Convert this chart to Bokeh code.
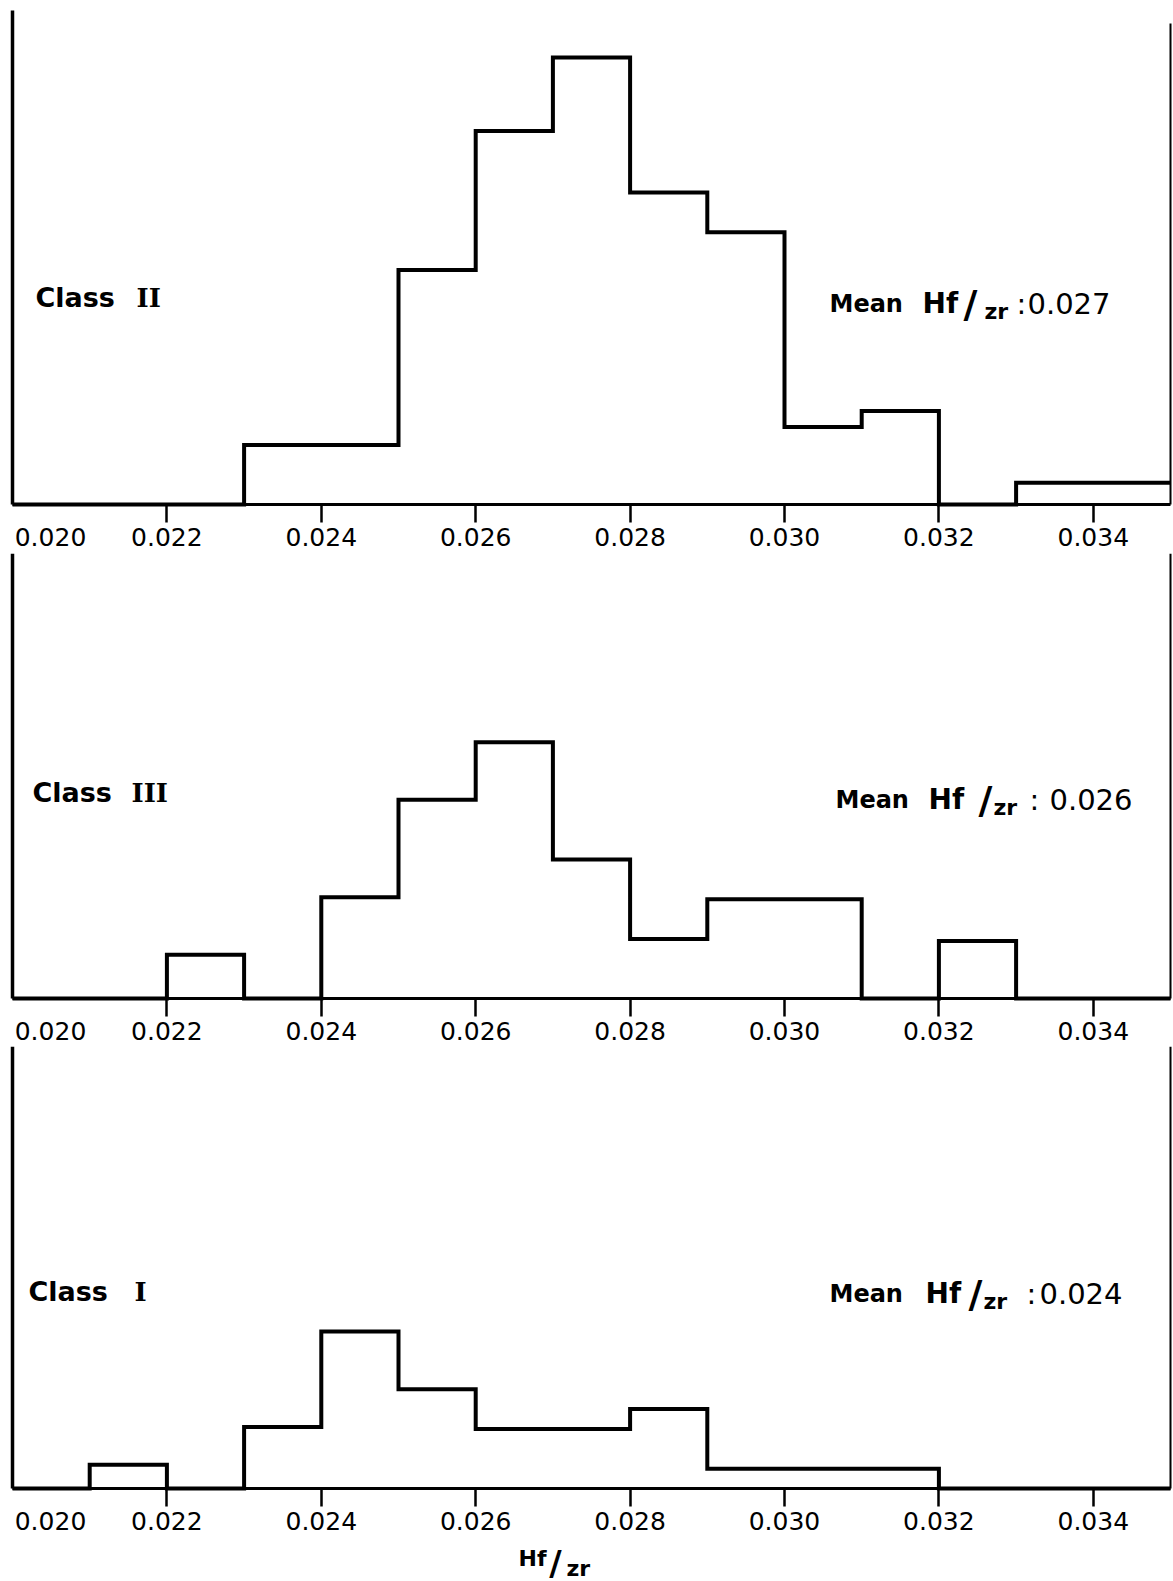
from bokeh.plotting import figure
from bokeh.models import FixedTicker, LinearAxis, Label, Range1d, NumeralTickFormatter
from bokeh.layouts import column
from bokeh.embed import file_html
from bokeh.resources import INLINE

# ---- data ----
bin_edges = [0.020, 0.021, 0.022, 0.023, 0.024, 0.025, 0.026, 0.027,
             0.028, 0.029, 0.030, 0.031, 0.032, 0.033, 0.034, 0.035]
class_ii = [0, 0, 0, 3.0, 3.0, 11.8, 18.8, 22.5, 15.7, 13.7, 3.9, 4.7, 0, 1.1, 1.1]
class_iii = [0, 0, 2.2, 0, 5.1, 10.0, 12.9, 7.0, 3.0, 5.0, 5.0, 0, 2.9, 0, 0]
class_i = [0, 1.2, 0, 3.1, 7.9, 5.0, 3.0, 3.0, 4.0, 1.0, 1.0, 1.0, 0, 0, 0]
tick_values = [0.022, 0.024, 0.026, 0.028, 0.030, 0.032, 0.034]
first_tick_label = "0.020"
class_word = "Class"
numerals = ["II", "III", "I"]
mean_values = ["0.027", "0.026", "0.024"]
x_title = ["Hf", "/", "zr"]

FONT = "DejaVu Sans"
SERIF = "DejaVu Serif"
W = 1173                   # figure width (page has no margin)
X0_PX, X1_PX = 12, 1170    # canvas px of x = 0.020 and x = 0.035
U = 19.87                  # px per unit of frequency


def lab(p, x, y, text, size, bold=False, font=FONT, align="left"):
    p.add_layout(Label(x=x, y=y, x_units="screen", y_units="screen", text=text,
                       text_font=font, text_font_size=size,
                       text_font_style="bold" if bold else "normal",
                       text_color="black", text_align=align, text_baseline="middle"))


def panel(values, numeral, mean, fig_top, fig_bottom, baseline, left_top, right_top,
          cls, mean_lay):
    lo, hi = bin_edges[0], bin_edges[-1]
    k = (hi - lo) / (X1_PX - X0_PX)
    x_range = Range1d(lo - X0_PX * k, hi + (W - X1_PX) * k)
    y_range = Range1d(-(fig_bottom - baseline) / U, (baseline - fig_top) / U)
    p = figure(width=W, height=fig_bottom - fig_top, x_range=x_range, y_range=y_range,
               output_backend="svg", toolbar_location=None,
               min_border_left=0, min_border_right=0, min_border_top=0,
               min_border_bottom=0, outline_line_color=None,
               background_fill_color="white", border_fill_color="white",
               x_axis_location=None, y_axis_location=None)
    p.grid.visible = False

    xa = LinearAxis(fixed_location=0, ticker=FixedTicker(ticks=tick_values),
                    formatter=NumeralTickFormatter(format="0.000"),
                    axis_line_width=3, major_tick_out=18, major_tick_in=0,
                    major_tick_line_width=2.5, minor_tick_line_color=None,
                    major_label_text_font=FONT, major_label_text_font_size="25px",
                    major_label_text_color="black", major_label_standoff=5,
                    bounds=(lo, hi))
    p.add_layout(xa, "below")
    ya = LinearAxis(fixed_location=lo, ticker=FixedTicker(ticks=[]),
                    major_tick_line_color=None, minor_tick_line_color=None,
                    axis_line_width=3.5, bounds=(0, (baseline - left_top) / U))
    p.add_layout(ya, "left")
    ra = LinearAxis(fixed_location=hi, ticker=FixedTicker(ticks=[]),
                    major_tick_line_color=None, minor_tick_line_color=None,
                    axis_line_width=2, bounds=(0, (baseline - right_top) / U))
    p.add_layout(ra, "right")

    p.step(x=bin_edges, y=values + [values[-1]], mode="after", line_width=4,
           line_color="black", line_join="miter")

    off = fig_bottom - baseline
    # first tick label, set right of the left edge
    lab(p, X0_PX + 38, off - 32, first_tick_label, "25px", align="center")

    cx, nx, cy = cls
    lab(p, X0_PX + cx, off + cy, class_word, "27px", bold=True)
    lab(p, X0_PX + nx, off + cy, numeral, "26px", bold=True, font=SERIF)

    mx, my, dh, ds, dz, dc, dv = mean_lay
    mx += X0_PX
    lab(p, mx, off + my, "Mean", "24px", bold=True)
    lab(p, mx + dh, off + my, "Hf", "28px", bold=True)
    lab(p, mx + ds, off + my, "/", "38px", bold=True, align="center")
    lab(p, mx + dz, off + my - 8, "zr", "22px", bold=True)
    lab(p, mx + dc, off + my, ":", "29px")
    lab(p, mx + dv, off + my, mean, "29px")
    return p, off


p1, _ = panel(class_ii, numerals[0], mean_values[0], 0, 553, 504, 10, 23,
              (23, 124, 207), (817, 201, 93, 141, 155, 187, 198))
p2, _ = panel(class_iii, numerals[1], mean_values[1], 553, 1046, 998, 550, 550,
              (20, 119, 206), (823, 199, 93, 150, 158, 194, 214))
p3, off3 = panel(class_i, numerals[2], mean_values[2], 1046, 1581, 1488, 1043, 1042,
                 (16, 122, 197), (817, 195, 96, 146, 154, 197, 210))

lab(p3, 518, off3 - 70, x_title[0], "22px", bold=True)
lab(p3, 555, off3 - 74, x_title[1], "34px", bold=True, align="center")
lab(p3, 566, off3 - 80, x_title[2], "22px", bold=True)

layout = column(p1, p2, p3, spacing=0)
open("out.html", "w").write(file_html(layout, INLINE))
